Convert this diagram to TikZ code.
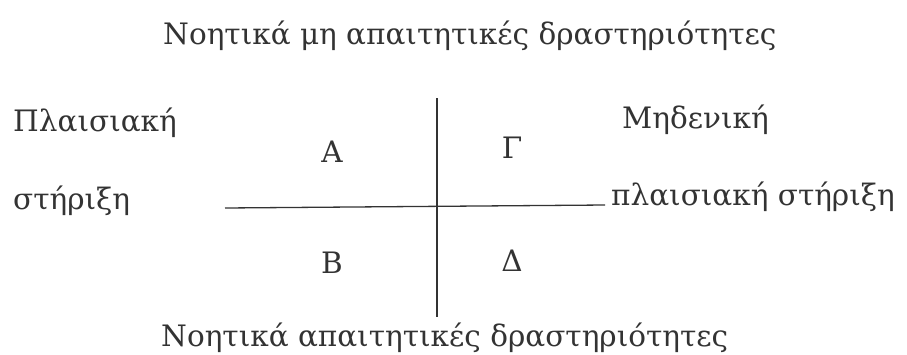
\documentclass[tikz,border=0pt]{standalone}
\usepackage{fontspec}
\setmainfont{DejaVu Serif}
\begin{document}
\begin{tikzpicture}[x=1pt,y=-1pt,
  lbl/.style={font=\fontsize{29.5}{34}\selectfont, text=black!80, inner sep=0pt},
  axis/.style={draw=black!80, line width=1.3pt}]
\useasboundingbox (0,0) rectangle (907,354);
\node[lbl, anchor=base west] (top) at (163,44) {Νοητικά μη απαιτητικές δραστηριότητες};
\node[lbl, anchor=base west] (bot) at (161,346) {Νοητικά απαιτητικές δραστηριότητες};
\node[lbl, anchor=base west] (pl) at (13,131) {Πλαισιακή};
\node[lbl, anchor=base west] (st) at (13,209) {στήριξη};
\node[lbl, anchor=base west] (md) at (622,128) {Μηδενική};
\node[lbl, anchor=base west] (pst) at (611,205) {πλαισιακή στήριξη};
\node[lbl, anchor=base] (A) at (332,162) {Α};
\node[lbl, anchor=base] (G) at (512,158) {Γ};
\node[lbl, anchor=base] (B) at (332,273) {Β};
\node[lbl, anchor=base] (D) at (512,271) {Δ};
\coordinate (vt) at (437,98);
\coordinate (vb) at (437,317);
\coordinate (hl) at (225,208);
\coordinate (hr) at (605,205);
\draw[axis] (vt) -- (vb);
\draw[axis] (hl) -- (hr);
\end{tikzpicture}
\end{document}
